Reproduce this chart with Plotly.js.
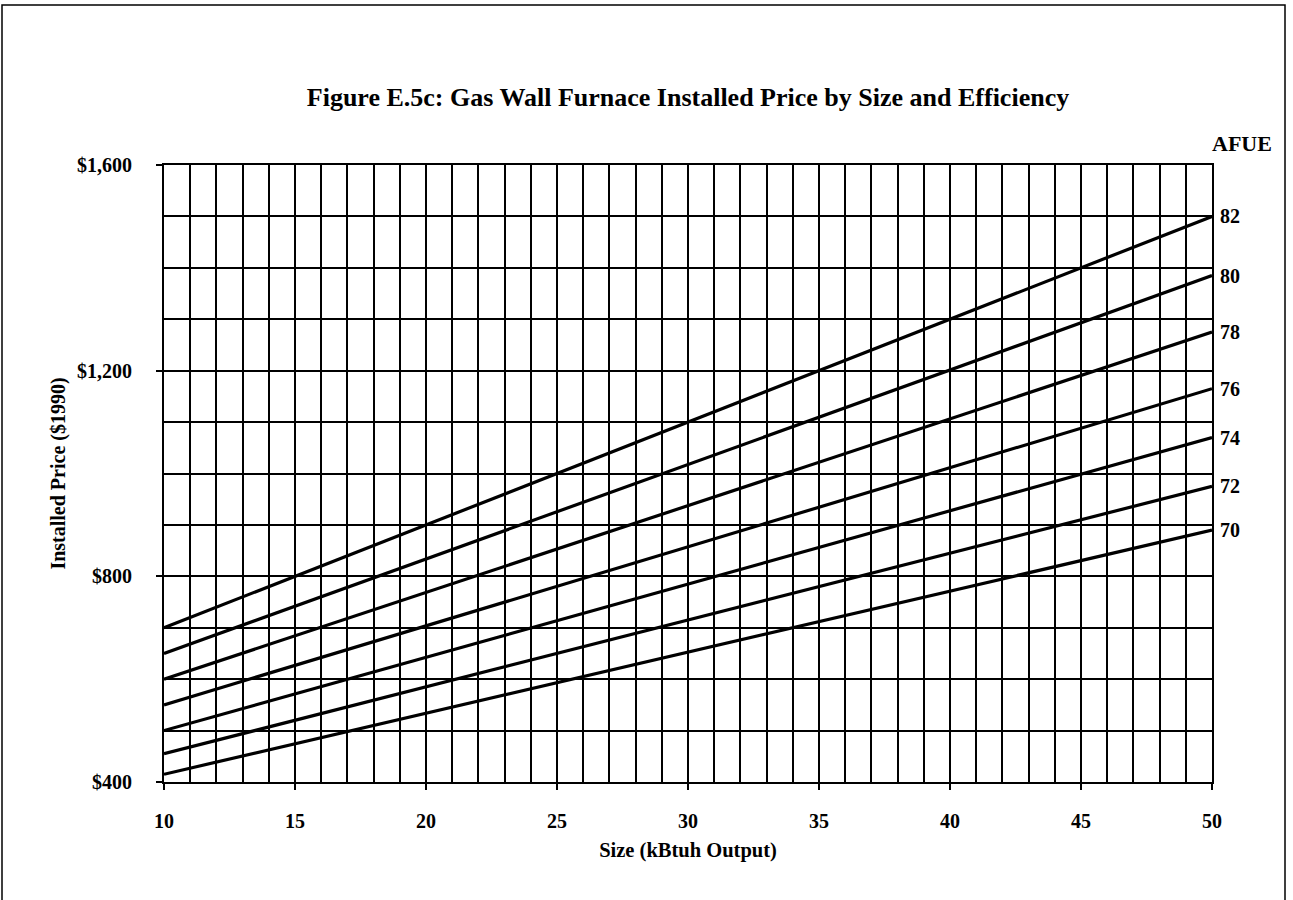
<!DOCTYPE html>
<html>
<head>
<meta charset="utf-8">
<script src="https://cdn.plot.ly/plotly-3.0.1.min.js"></script>
<style>
  html, body { margin: 0; padding: 0; background: #fff; }
  #chart { width: 1293px; height: 900px; }
</style>
</head>
<body>
<div id="chart"></div>
<script>
// ---- Data ----
const sizes = [10, 50];                       // kBtuh output
const afueLabels = ['82', '80', '78', '76', '74', '72', '70'];
const priceAtSize10 = [700, 650, 600, 550, 500, 455, 415];
const priceAtSize50 = [1500, 1385, 1275, 1165, 1070, 975, 890];

const chartTitle = 'Figure E.5c: Gas Wall Furnace Installed Price by Size and Efficiency';
const xTitle = 'Size (kBtuh Output)';
const yTitle = 'Installed Price ($1990)';
const legendTitle = 'AFUE';

const serif = 'Liberation Serif, Times New Roman, serif';

const traces = afueLabels.map((lab, i) => ({
  type: 'scatter',
  mode: 'lines',
  name: lab,
  x: sizes,
  y: [priceAtSize10[i], priceAtSize50[i]],
  line: { color: '#000', width: 3.2 },
  hoverinfo: 'x+y+name'
}));

// pixel -> paper helpers for the plot area
const W = 1293, H = 900;
const L = 164, R = 1212, T = 165, B = 782;
function px(x) { return (x - L) / (R - L); }
function py(y) { return (B - y) / (B - T); }

const annotations = afueLabels.map((lab, i) => ({
  x: sizes[sizes.length - 1],
  y: priceAtSize50[i],
  xref: 'x', yref: 'y',
  text: lab,
  showarrow: false,
  xanchor: 'left',
  yanchor: 'middle',
  xshift: 6,
  font: { family: serif, size: 20, color: '#000', weight: 'bold' }
}));

annotations.push({
  x: px(1242), y: py(143),
  xref: 'paper', yref: 'paper',
  xanchor: 'center', yanchor: 'middle',
  text: legendTitle,
  showarrow: false,
  font: { family: serif, size: 22, color: '#000', weight: 'bold' }
});

const frame = {
  type: 'path', xref: 'paper', yref: 'paper',
  path: `M ${px(2)},${py(900)} L ${px(2)},${py(5)} L ${px(1285)},${py(5)} L ${px(1285)},${py(900)}`,
  line: { color: '#000', width: 1.5 }
};

const layout = {
  width: W, height: H,
  paper_bgcolor: '#fff', plot_bgcolor: '#fff',
  margin: { l: L, r: W - R, t: T, b: H - B, pad: 0 },
  showlegend: false,
  title: {
    text: chartTitle,
    x: 688 / W, xref: 'container', xanchor: 'center',
    y: 1 - 97 / H, yref: 'container', yanchor: 'middle',
    font: { family: serif, size: 26, color: '#000', weight: 'bold' }
  },
  xaxis: {
    range: [10, 50],
    tick0: 10, dtick: 5,
    ticks: 'outside', ticklen: 6, tickwidth: 2, tickcolor: '#000',
    ticklabelstandoff: 14,
    showgrid: true, gridcolor: '#000', gridwidth: 2,
    minor: { dtick: 1, showgrid: true, gridcolor: '#000', gridwidth: 2, ticks: '' },
    showline: true, linecolor: '#000', linewidth: 2, mirror: true,
    zeroline: false,
    tickfont: { family: serif, size: 20, color: '#000', weight: 'bold' },
    title: {
      text: xTitle, standoff: 12,
      font: { family: serif, size: 20.5, color: '#000', weight: 'bold' }
    }
  },
  yaxis: {
    range: [400, 1600],
    tick0: 400, dtick: 400,
    tickprefix: '$', tickformat: ',d',
    ticks: 'outside', ticklen: 6, tickwidth: 2, tickcolor: '#000',
    ticklabelstandoff: 20,
    showgrid: true, gridcolor: '#000', gridwidth: 2,
    minor: { dtick: 100, showgrid: true, gridcolor: '#000', gridwidth: 2, ticks: '' },
    showline: true, linecolor: '#000', linewidth: 2, mirror: true,
    zeroline: false,
    tickfont: { family: serif, size: 20, color: '#000', weight: 'bold' },
    title: {
      text: yTitle, standoff: 6,
      font: { family: serif, size: 20, color: '#000', weight: 'bold' }
    }
  },
  annotations: annotations,
  shapes: [frame]
};

Plotly.newPlot('chart', traces, layout, { displayModeBar: false, staticPlot: true });
</script>
</body>
</html>
